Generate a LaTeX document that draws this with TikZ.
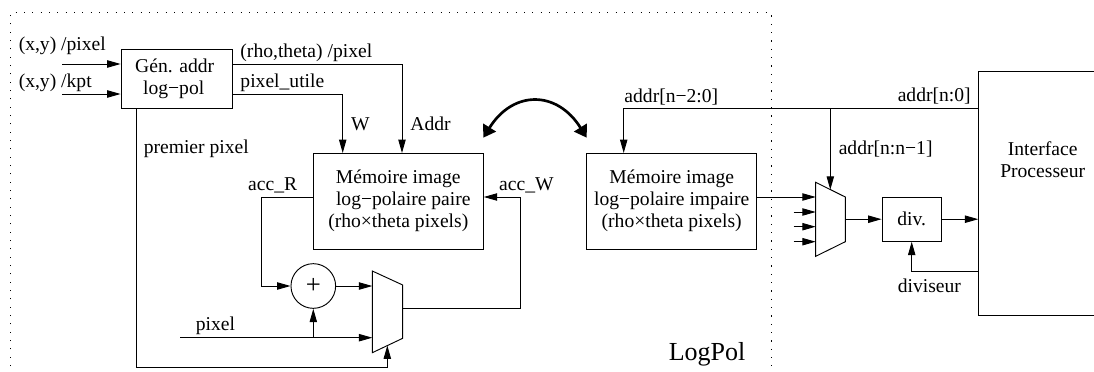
\documentclass[tikz,border=0pt]{standalone}
\usepackage{fontspec}
\setmainfont{Liberation Serif}
\usetikzlibrary{arrows.meta}

\begin{document}
\begin{tikzpicture}[x=0.75pt,y=-0.75pt,line width=0.7pt,>={Triangle[length=10pt,width=5.5pt]}]
	\tikzstyle{every node}=[font=\fontsize{14.7}{16.7}\selectfont]
	\tikzstyle{bloc}=[draw, rectangle, align=center, inner sep=0pt]
	\tikzstyle{lbl}=[anchor=base west, inner sep=0pt]
	\useasboundingbox (0,0) rectangle (1094,371);
	
	%Cadre LogPol
	\draw[dash pattern=on 0.8pt off 5.45pt] (10.7,366) -- (10.7,12.7) -- (771.3,12.7) -- (771.3,366);
	\node[lbl, font=\fontsize{19.5}{21}\selectfont] (logpol) at (668.3,360.3) {LogPol};
	
	%Blocs
	\node[bloc, minimum width=83.5pt, minimum height=44.4pt] (gen) at (176.7,79.1) {Gén. addr\kern3pt\\log−pol\kern4.5pt};
	\node[bloc, minimum width=127.5pt, minimum height=72pt] (mem) at (398.3,201) {Mémoire image\\\hspace{7.5pt}log−polaire paire\\(rho×theta pixels)};
	\node[bloc, minimum width=127.5pt, minimum height=72pt] (memb) at (671.7,201) {Mémoire image\\log−polaire impaire\\(rho×theta pixels)};
	\node[bloc, minimum width=44.5pt, minimum height=33.2pt] (div) at (911.7,219.2) {div.};
	\node[draw, circle, minimum size=33.5pt, inner sep=0pt, font=\fontsize{20}{21}\selectfont] (add) at (313.3,286) {+};
	
	%Processeur
	\draw (1094,71.7) -- (978.3,71.7) -- (978.3,315.3) -- (1094,315.3);
	\coordinate (proc) at (978.3,193);
	\node[align=center] (proctxt) at (1042.7,160) {Interface\\Processeur};
	
	%Multiplexeurs
	\draw (372.3,271) -- (402.7,285) -- (402.7,338.3) -- (372.3,352.7) -- cycle;
	\coordinate (muxa) at (372.3,312);
	\coordinate (muxaout) at (402.7,308);
	\coordinate (muxabot) at (387.3,345.5);
	\draw (815.7,182.3) -- (845.3,197) -- (845.3,241.7) -- (815.7,256.3) -- cycle;
	\coordinate (muxb) at (815.7,219);
	\coordinate (muxbout) at (845.3,219.2);
	\coordinate (muxbtop) at (830.3,189.7);
	
	%Entrees
	\coordinate (inxy) at (62.3,64);
	\coordinate (inkpt) at (62.3,94);
	\coordinate (inpix) at (180.3,337.7);
	\draw[->] (inxy) -- (inxy -| gen.west);
	\draw[->] (inkpt) -- (inkpt -| gen.west);
	
	%Adresses et ecriture
	\coordinate (a) at (402,153);
	\coordinate (w) at (342.7,153);
	\draw[->] (inxy -| gen.east) -| (a);
	\draw[->] (inkpt -| gen.east) -| (w);
	
	%Boucle accumulateur
	\coordinate (accr) at (261.7,197);
	\coordinate (accw) at (520,197);
	\draw (accr -| mem.west) -- (accr);
	\draw[->] (accr) |- (add.west);
	\draw[->] (add.east) -- (add.east -| muxa);
	\draw[->] (inpix) -- (inpix -| muxa);
	\draw[->] (inpix -| add.south) -- (add.south);
	\draw (muxaout) -| (accw);
	\draw[->] (accw) -- (accw -| mem.east);
	\coordinate (prem) at (136,367);
	\draw (prem |- gen.south) -- (prem);
	\draw[->] (prem) -| (muxabot);
	
	%Echange des memoires
	\coordinate (echa) at (483.3,137.7);
	\coordinate (echb) at (586.7,137.7);
	\draw[{Triangle[length=9pt,width=11pt]}-{Triangle[length=9pt,width=11pt]}, line width=2pt] (echa) .. controls (513,90) and (557,90) .. (echb);
	
	%Bus addr
	\coordinate (bus) at (978.3,108.3);
	\coordinate (memtop) at (623.7,153);
	\draw[->] (bus) -| (memtop);
	\draw[->] (muxbtop |- bus) -- (muxbtop);
	
	%Sortie
	\coordinate (mema) at (756.7,197);
	\draw[->] (mema) -- (mema -| muxb);
	\foreach \y in {212,226.7,241.7} \draw[->] (793.7,\y) -- (815.7,\y);
	\draw[->] (muxbout) -- (div.west);
	\draw[->] (div.east) -- (div.east -| proc);
	\coordinate (dvs) at (978.3,271);
	\draw[->] (dvs) -| (div.south);
	
	%Beschriftungen
	\node[lbl] (lxy) at (18.3,50.7) {(x,y) /pixel};
	\node[lbl] (lkpt) at (18.3,87.3) {(x,y) /kpt};
	\node[lbl] (lrho) at (240,57.3) {(rho,theta) /pixel};
	\node[lbl] (lutile) at (240,87.3) {pixel\_utile};
	\node[lbl] (lw) at (350.7,130.7) {W};
	\node[lbl] (laddr) at (410,130.7) {Addr};
	\node[lbl] (lprem) at (143.3,153.3) {premier pixel};
	\node[lbl] (laccr) at (247.7,190.3) {acc\_R};
	\node[lbl] (laccw) at (498.7,190.3) {acc\_W};
	\node[lbl] (lpix) at (195.3,330) {pixel};
	\node[lbl] (lbusa) at (624,102.3) {addr[n−2:0]};
	\node[lbl] (lbusb) at (897.3,101.7) {addr[n:0]};
	\node[lbl] (lbusc) at (838.3,154) {addr[n:n−1]};
	\node[lbl] (ldvs) at (897.3,292.7) {diviseur};
\end{tikzpicture}
\end{document}
